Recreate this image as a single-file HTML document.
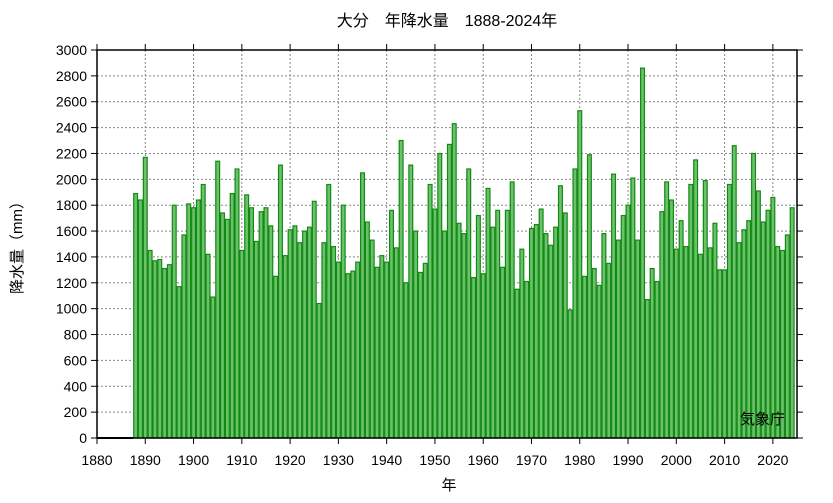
<!DOCTYPE html>
<html><head><meta charset="utf-8">
<style>
body{margin:0;background:#fff;}
svg text{font-family:"Liberation Sans","Noto Sans CJK JP",sans-serif;fill:#000;}
</style></head>
<body>
<svg id="chart" width="833" height="498" xmlns="http://www.w3.org/2000/svg">
<text x="447" y="26" font-size="16" text-anchor="middle">大分　年降水量　1888-2024年</text>
<text transform="translate(22,244) rotate(-90)" font-size="15" text-anchor="middle">降水量（mm）</text>
<text x="449" y="490" font-size="15" text-anchor="middle">年</text>
<g id="grid"></g>
<g id="bars"></g>
<g id="axes"></g>
<text x="785" y="424" font-size="15" text-anchor="end">気象庁</text>
</svg>
<script>
const startYear = 1888;
const precipitation = [1890,1840,2170,1450,1370,1380,1310,1340,1800,1170,1570,1810,1780,1840,1960,1420,1090,2140,1740,1690,1890,2080,1450,1880,1780,1520,1750,1780,1640,1250,2110,1410,1610,1640,1510,1600,1630,1830,1040,1510,1960,1480,1360,1800,1270,1290,1360,2050,1670,1530,1320,1410,1360,1760,1470,2300,1200,2110,1600,1280,1350,1960,1770,2200,1600,2270,2430,1660,1580,2080,1240,1720,1270,1930,1630,1760,1320,1760,1980,1150,1460,1210,1620,1650,1770,1580,1490,1630,1950,1740,990,2080,2530,1250,2190,1310,1180,1580,1350,2040,1530,1720,1800,2010,1530,2860,1070,1310,1210,1750,1980,1840,1460,1680,1480,1960,2150,1420,1990,1470,1660,1300,1300,1960,2260,1510,1610,1680,2200,1910,1670,1760,1860,1480,1450,1570,1780];
const yTicks = [0,200,400,600,800,1000,1200,1400,1600,1800,2000,2200,2400,2600,2800,3000];
const xTicks = [1880,1890,1900,1910,1920,1930,1940,1950,1960,1970,1980,1990,2000,2010,2020];

const L=97,R=797,T=50,B=438;
const xMin=1880,xMax=2025,yMax=3000;
const xs=v=>L+(v-xMin)/(xMax-xMin)*(R-L);
const ys=v=>B-v/yMax*(B-T);
const NS='http://www.w3.org/2000/svg';
function mk(tag,parent,attrs){const e=document.createElementNS(NS,tag);for(const k in attrs)e.setAttribute(k,attrs[k]);parent.appendChild(e);return e;}
const grid=document.getElementById('grid'),bars=document.getElementById('bars'),axes=document.getElementById('axes');

yTicks.forEach(t=>{
  const y=ys(t);
  if(t>0&&t<yMax){const g=mk('line',grid,{x1:L,x2:R,y1:y,y2:y,stroke:'#888','stroke-width':1,'stroke-dasharray':'2,2'});
  
  }
  mk('line',axes,{x1:L-6,x2:L,y1:y,y2:y,stroke:'#000'});
  mk('line',axes,{x1:R,x2:R+6,y1:y,y2:y,stroke:'#000'});
  const tx=mk('text',axes,{x:L-10,y:y+5,'font-size':14,'text-anchor':'end'});
  tx.textContent=t;
  
  
});
xTicks.forEach(t=>{
  const x=xs(t);
  if(t>xMin){const g=mk('line',grid,{x1:x,x2:x,y1:T,y2:B,stroke:'#888','stroke-width':1,'stroke-dasharray':'2,2'});
  
  }
  mk('line',axes,{x1:x,x2:x,y1:B,y2:B+6,stroke:'#000'});
  mk('line',axes,{x1:x,x2:x,y1:T-6,y2:T,stroke:'#000'});
  const tx=mk('text',axes,{x:x,y:B+27,'font-size':14,'text-anchor':'middle'});
  tx.textContent=t;
  
  
});
precipitation.forEach((v,i)=>{
  const yr=startYear+i;
  const x0=xs(yr-0.5),x1=xs(yr+0.5),y=ys(v);
  const r=mk('rect',bars,{x:x0+0.5,y:y,width:x1-x0-1,height:B-y,fill:'#6cc26c',stroke:'#138a13','stroke-width':1.2});
  
  
});
const frame=mk('rect',axes,{x:L,y:T,width:R-L,height:B-T,fill:'none',stroke:'#000','stroke-width':1.5});


mk('line',axes,{x1:L,x2:xs(startYear-0.5),y1:B,y2:B,stroke:'#000','stroke-width':2});
</script>
</body></html>
